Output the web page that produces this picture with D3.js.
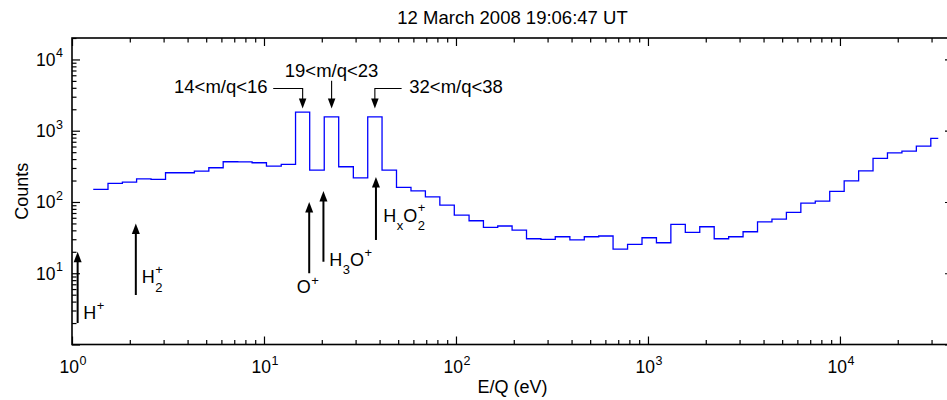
<!DOCTYPE html>
<html><head><meta charset="utf-8">
<script src="https://cdn.jsdelivr.net/npm/d3@7"></script>
<style>
body{margin:0;background:#fff;}
svg{display:block;font-family:"Liberation Sans",Arial,Helvetica,sans-serif;}
</style></head><body>
<svg id="c" width="947" height="400"></svg>
<script>
// ---------------- data ----------------
const title = "12 March 2008 19:06:47 UT";
const xLabel = "E/Q (eV)";
const yLabel = "Counts";

// energy bin edges (eV); last value closes the final bin
const energyEdges = [1.29, 1.54, 1.83, 2.17, 2.58, 3.07, 3.65, 4.34, 5.16, 6.13,
  7.30, 8.67, 10.3, 12.3, 14.6, 17.3, 20.6, 24.5, 29.2, 34.7,
  41.2, 49.0, 58.3, 69.3, 82.4, 98.0, 117, 139, 165, 196,
  233, 277, 329, 392, 466, 554, 658, 783, 931, 1107,
  1316, 1565, 1861, 2213, 2632, 3129, 3721, 4424, 5261, 6256,
  7438, 8845, 10520, 12510, 14870, 17680, 21030, 25000, 29730, 32510];

// counts per bin
const counts = [150, 182, 190, 211, 207, 257, 257, 271, 302, 367,
  365, 355, 318, 337, 1824, 280, 1567, 312, 218, 1567,
  280, 160, 143.6, 118, 90.5, 65.5, 54.5, 44, 46, 40.4,
  30.5, 29.9, 32.5, 29.3, 32.5, 33.3, 21.8, 25.4, 31.5, 26.8,
  48.6, 37.5, 44.9, 30.5, 32.5, 38.2, 52.7, 57.5, 71.5, 96.5,
  103, 141, 198, 274, 408, 490, 518, 608, 780];

const xMajorTicks = [1, 10, 100, 1000, 10000];
const xTickExponents = ["0", "1", "2", "3", "4"];
const yMajorTicks = [10, 100, 1000, 10000];
const yTickExponents = ["1", "2", "3", "4"];
const xDomain = [1, 3.88e4];
const yDomain = [1, 2e4];

// mass-range annotations (arrow energy, arrow tip / elbow counts, text anchor)
const massBands = [
  {label: "14<m/q<16", energy: 15.9, tip: 2056, elbow: 3917, leaderEnergy: 11.17, textEnergy: 10.45, textCount: 3335, anchor: "end"},
  {label: "19<m/q<23", energy: 22.5, tip: 2056, elbow: 5010, leaderEnergy: 22.5, textEnergy: 22.5, textCount: 5600, anchor: "middle"},
  {label: "32<m/q<38", energy: 37.8, tip: 2056, elbow: 3917, leaderEnergy: 52.1, textEnergy: 57.1, textCount: 3335, anchor: "start"}
];

// ion species arrows
const ions = [
  {parts: [["H", "n"], ["+", "sup"]], energy: 1.07, tail: 2, tip: 20, textEnergy: 1.145, textCount: 2.28},
  {parts: [["H", "n"], ["2", "+"]], energy: 2.15, tail: 4.95, tip: 50, textEnergy: 2.307, textCount: 7.21},
  {parts: [["O", "n"], ["+", "sup"]], energy: 17.2, tail: 10, tip: 100, textEnergy: 14.8, textCount: 5.27},
  {parts: [["H", "n"], ["3", "sub"], ["O", "n"], ["+", "sup"]], energy: 20.4, tail: 14.5, tip: 143, textEnergy: 21.9, textCount: 12.8},
  {parts: [["H", "n"], ["x", "sub"], ["O", "n"], ["2", "+"]], energy: 38.3, tail: 29.3, tip: 225, textEnergy: 41.8, textCount: 52.7}
];

// ---------------- layout ----------------
const L = 72, R = 953, T = 38, B = 344.5;
const svg = d3.select("#c");
const x = d3.scaleLog().domain(xDomain).range([L, R]);
const y = d3.scaleLog().domain(yDomain).range([B, T]);

function rich(g, parts, x0, y0, anchor, fs, ss) {
  const grp = g.append("g");
  let cx = 0;
  parts.forEach(([t, kind]) => {
    if (kind === "n") {
      const el = grp.append("text").attr("x", cx).attr("y", 0).attr("font-size", fs).text(t);
      cx += el.node().getComputedTextLength();
    } else if (kind === "sup") {
      const el = grp.append("text").attr("x", cx + 0.5).attr("y", -8.5).attr("font-size", ss).text(t);
      cx += el.node().getComputedTextLength() + 0.5;
    } else if (kind === "sub") {
      const el = grp.append("text").attr("x", cx + 0.5).attr("y", 8.5).attr("font-size", ss).text(t);
      cx += el.node().getComputedTextLength() + 0.5;
    } else {
      // stacked subscript (t) and superscript (kind)
      const a = grp.append("text").attr("x", cx + 0.5).attr("y", 8.5).attr("font-size", ss).text(t);
      const b = grp.append("text").attr("x", cx + 0.5).attr("y", -9.5).attr("font-size", ss).text(kind);
      cx += Math.max(a.node().getComputedTextLength(), b.node().getComputedTextLength()) + 0.5;
    }
  });
  let dx = 0;
  if (anchor === "middle") dx = -cx / 2;
  if (anchor === "end") dx = -cx;
  grp.attr("transform", `translate(${x0 + dx},${y0})`);
  return grp;
}

// ---------------- data line ----------------
svg.append("defs").append("clipPath").attr("id", "clip")
  .append("rect").attr("x", L).attr("y", T).attr("width", R - L).attr("height", B - T);

const pts = energyEdges.map((e, i) => [e, counts[Math.min(i, counts.length - 1)]]);
svg.append("path")
  .attr("clip-path", "url(#clip)")
  .attr("d", d3.line().x(d => x(d[0])).y(d => y(d[1])).curve(d3.curveStepAfter)(pts))
  .attr("fill", "none").attr("stroke", "#0000ff").attr("stroke-width", 1.3);

// ---------------- axes ----------------
const xMinor = x.ticks().filter(v => !xMajorTicks.includes(v));
const yMinor = y.ticks().filter(v => ![1, 10, 100, 1000, 10000].includes(v));
const yMajAll = [1].concat(yMajorTicks);

function axisStyle(g) {
  g.select(".domain").remove();
  g.selectAll(".tick line").attr("stroke", "#000").attr("stroke-width", 1.2);
}
const axes = [
  [d3.axisBottom, x, `translate(0,${B})`],
  [d3.axisTop, x, `translate(0,${T})`],
  [d3.axisLeft, y, `translate(${L},0)`],
  [d3.axisRight, y, `translate(${R},0)`]
];
axes.forEach(([fn, sc, tr]) => {
  const isX = sc === x;
  svg.append("g").attr("transform", tr)
    .call(fn(sc).tickValues(isX ? xMajorTicks : yMajAll).tickSize(-8).tickFormat(""))
    .call(axisStyle);
  svg.append("g").attr("transform", tr)
    .call(fn(sc).tickValues(isX ? xMinor : yMinor).tickSize(-4.5).tickFormat(""))
    .call(axisStyle);
});

svg.append("rect").attr("x", L).attr("y", T).attr("width", R - L).attr("height", B - T)
  .attr("fill", "none").attr("stroke", "#000").attr("stroke-width", 1.6);

// tick labels
xMajorTicks.forEach((v, i) => {
  rich(svg, [["10", "n"], [xTickExponents[i], "sup"]], x(v) + 1, 373.3, "middle", 17.5, 12.5);
});
yMajorTicks.forEach((v, i) => {
  rich(svg, [["10", "n"], [yTickExponents[i], "sup"]], L - 9, y(v) + 6.5, "end", 17.5, 12.5);
});

// titles
svg.append("text").attr("x", (L + R) / 2).attr("y", 24).attr("text-anchor", "middle")
  .attr("font-size", 18.5).text(title);
svg.append("text").attr("x", (L + R) / 2).attr("y", 393).attr("text-anchor", "middle")
  .attr("font-size", 18).text(xLabel);
svg.append("text").attr("transform", `translate(27.5,${(T + B) / 2}) rotate(-90)`)
  .attr("text-anchor", "middle").attr("font-size", 18).text(yLabel);

// ---------------- annotations ----------------
function arrowHead(g, px, py, dir, w, h) {
  // dir: +1 pointing down, -1 pointing up
  g.append("path")
    .attr("d", `M${px},${py} L${px - w / 2},${py - dir * h} L${px + w / 2},${py - dir * h} Z`)
    .attr("fill", "#000");
}

const ann = svg.append("g");
massBands.forEach(m => {
  const ax = x(m.energy), ty = y(m.tip), ey = y(m.elbow), lx = x(m.leaderEnergy);
  ann.append("path")
    .attr("d", `M${lx},${ey} L${ax},${ey} L${ax},${ty - 6}`)
    .attr("fill", "none").attr("stroke", "#000").attr("stroke-width", 1.1);
  arrowHead(ann, ax, ty, 1, 7.5, 10);
  ann.append("text").attr("x", x(m.textEnergy)).attr("y", y(m.textCount))
    .attr("text-anchor", m.anchor).attr("font-size", 18.5).text(m.label);
});

ions.forEach(d => {
  const ax = x(d.energy), ty = y(d.tip), by = y(d.tail);
  ann.append("line").attr("x1", ax).attr("x2", ax).attr("y1", by).attr("y2", ty + 6)
    .attr("stroke", "#000").attr("stroke-width", 2);
  arrowHead(ann, ax, ty, -1, 8, 10.5);
  rich(ann, d.parts, x(d.textEnergy), y(d.textCount), "start", 18, 13);
});
</script>
</body></html>
